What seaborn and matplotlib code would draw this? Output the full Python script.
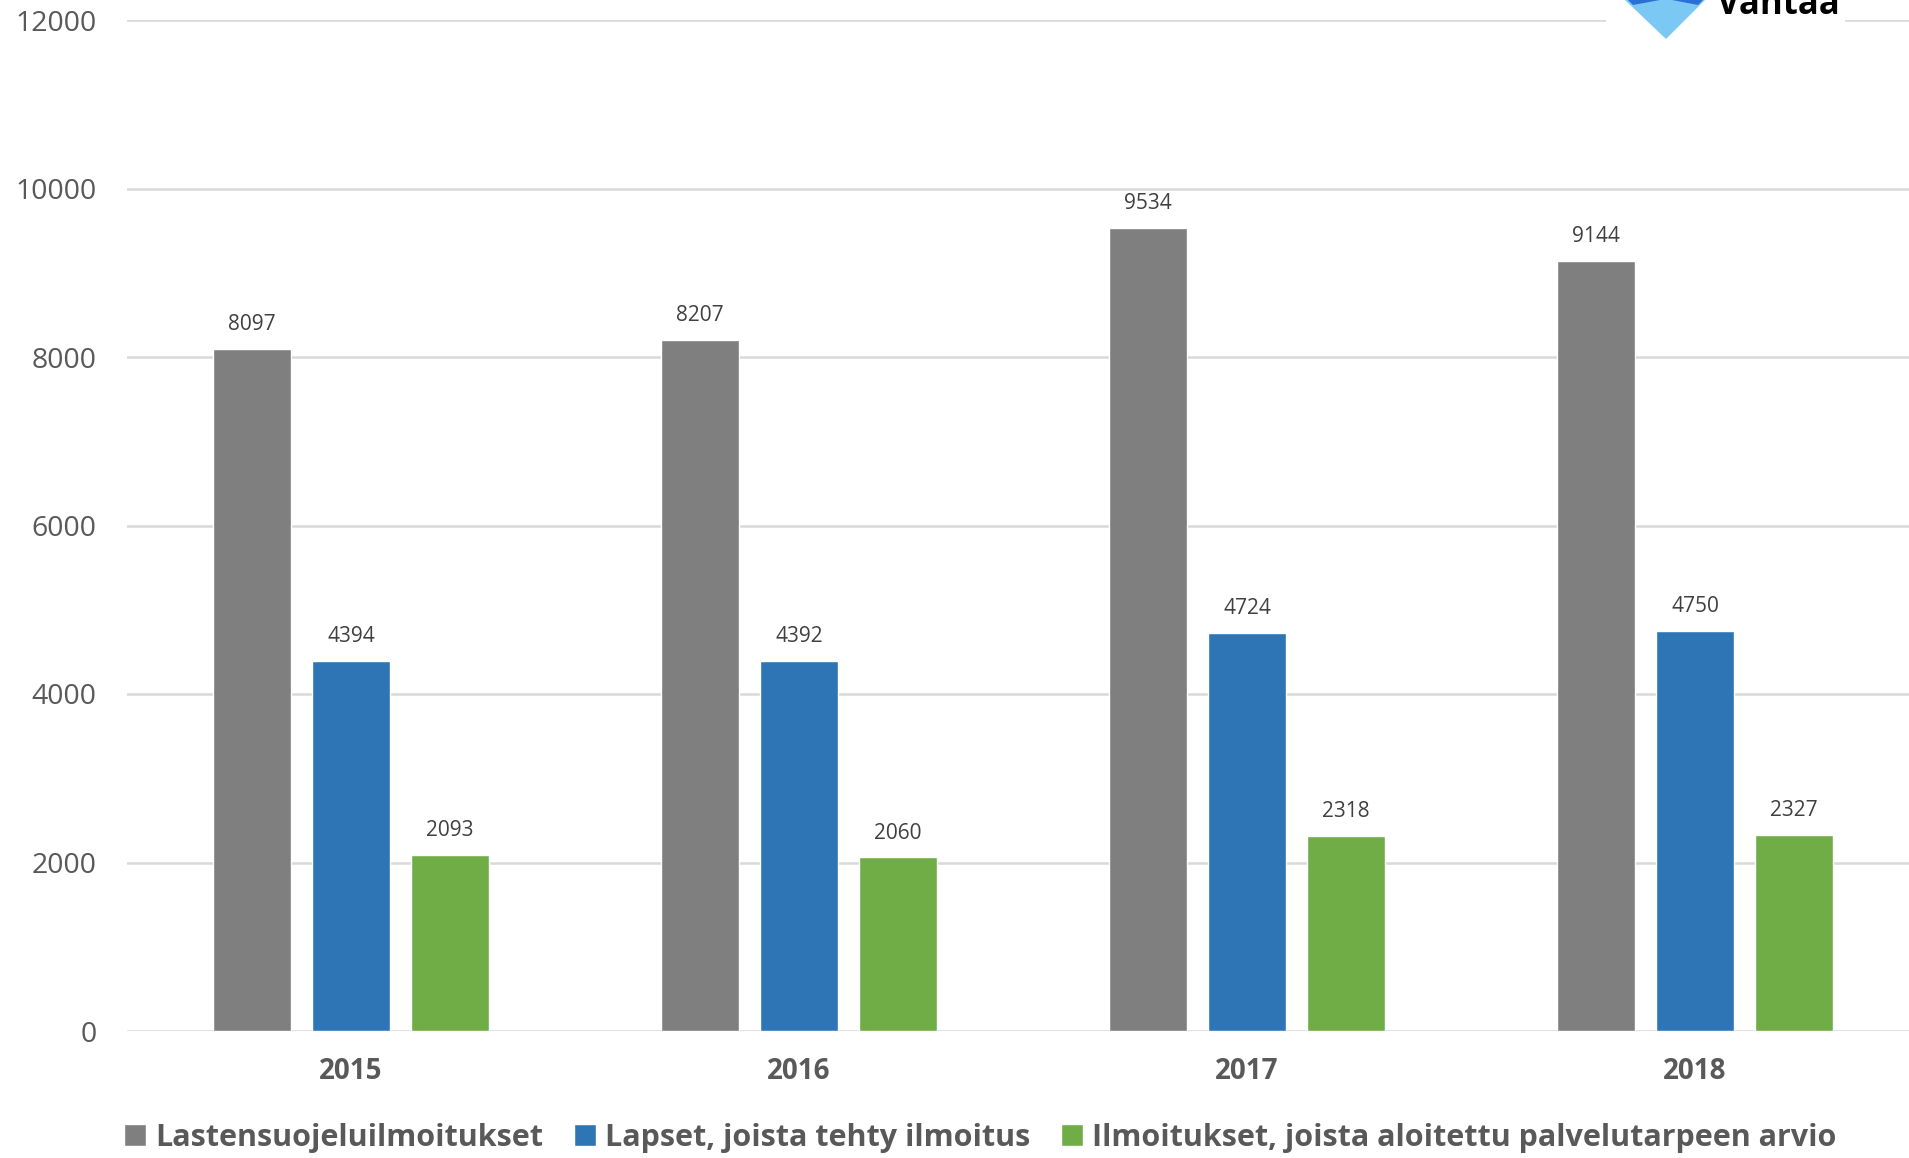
import matplotlib
matplotlib.use("Agg")
import matplotlib.pyplot as plt
import seaborn as sns
import pandas as pd
from matplotlib.patches import Polygon, Rectangle

years = ["2015", "2016", "2017", "2018"]
series_names = ["Lastensuojeluilmoitukset",
                "Lapset, joista tehty ilmoitus",
                "Ilmoitukset, joista aloitettu palvelutarpeen arvio"]
notifications = [8097, 8207, 9534, 9144]
children = [4394, 4392, 4724, 4750]
assessments = [2093, 2060, 2318, 2327]
y_ticks = [0, 2000, 4000, 6000, 8000, 10000, 12000]
colors = ["#7F7F7F", "#2E75B6", "#70AD47"]

rows = []
for name, vals in zip(series_names, [notifications, children, assessments]):
    for y, v in zip(years, vals):
        rows.append({"year": y, "series": name, "value": v})
df = pd.DataFrame(rows)

sns.set_theme(style="white")
plt.rcParams["font.family"] = ["Open Sans", "DejaVu Sans"]

W, H = 1909, 1158
fig = plt.figure(figsize=(W / 100, H / 100), dpi=100)
ax_left, ax_right = 127, 1919
ax_top, ax_bottom = 20, 1031
ax = fig.add_axes([ax_left / W, 1 - ax_bottom / H, (ax_right - ax_left) / W, (ax_bottom - ax_top) / H])

sns.barplot(data=df, x="year", y="value", hue="series", order=years,
            hue_order=series_names, palette=colors, width=0.663, gap=0.21,
            saturation=1, ax=ax, legend=True, errorbar=None)

for c in ax.containers:
    ax.bar_label(c, fmt="%d", padding=10, fontsize=15, color="#404040")

ax.set_ylim(0, 12000)
ax.set_xlim(-0.5, 3.5)
ax.set_yticks(y_ticks)
ax.set_yticklabels([str(t) for t in y_ticks])
ax.yaxis.grid(True, color="#D9D9D9", linewidth=1.8)
ax.set_axisbelow(True)
for s in ax.spines.values():
    s.set_visible(False)
ax.tick_params(axis="y", length=0, pad=22, labelsize=20.5, labelcolor="#595959")
ax.tick_params(axis="x", length=0, pad=19, labelsize=20, labelcolor="#595959")
for lbl in ax.get_xticklabels():
    lbl.set_fontweight("bold")
ax.set_xlabel("")
ax.set_ylabel("")

handles, labels = ax.get_legend_handles_labels()
ax.get_legend().remove()
leg = fig.legend(handles, labels, loc="center", bbox_to_anchor=(0.5136, 1 - 1138 / H),
                 ncol=3, frameon=False, handlelength=0.72, handleheight=0.72,
                 handletextpad=0.3, columnspacing=1.0,
                 prop={"size": 22, "weight": "bold"})
for t in leg.get_texts():
    t.set_color("#595959")

# logo area (white box hiding gridline, diamond and wordmark)
fig.patches.append(Rectangle((1606 / W, 1 - 45 / H), (1845 - 1606) / W, 45 / H,
                             transform=fig.transFigure, facecolor="white", edgecolor="none", zorder=5))
fig.patches.append(Polygon([(1625 / W, 1 - 0 / H), (1705 / W, 1 - 0 / H), (1666 / W, 1 - 39 / H)],
                           closed=True, transform=fig.transFigure, facecolor="#7CC8F4",
                           edgecolor="none", zorder=6))
fig.patches.append(Polygon([(1628 / W, 1 - 0 / H), (1660 / W, 1 - 0 / H), (1633 / W, 1 - 5 / H)],
                           closed=True, transform=fig.transFigure, facecolor="#2A6FD6",
                           edgecolor="none", zorder=7))
fig.patches.append(Polygon([(1672 / W, 1 - 0 / H), (1703 / W, 1 - 0 / H), (1698 / W, 1 - 5 / H)],
                           closed=True, transform=fig.transFigure, facecolor="#2A6FD6",
                           edgecolor="none", zorder=7))
fig.text(1717 / W, 1 - 14 / H, "Vantaa", fontsize=25, fontweight="bold", color="black",
         ha="left", va="baseline", zorder=8)

fig.savefig("out.png", dpi=100)
